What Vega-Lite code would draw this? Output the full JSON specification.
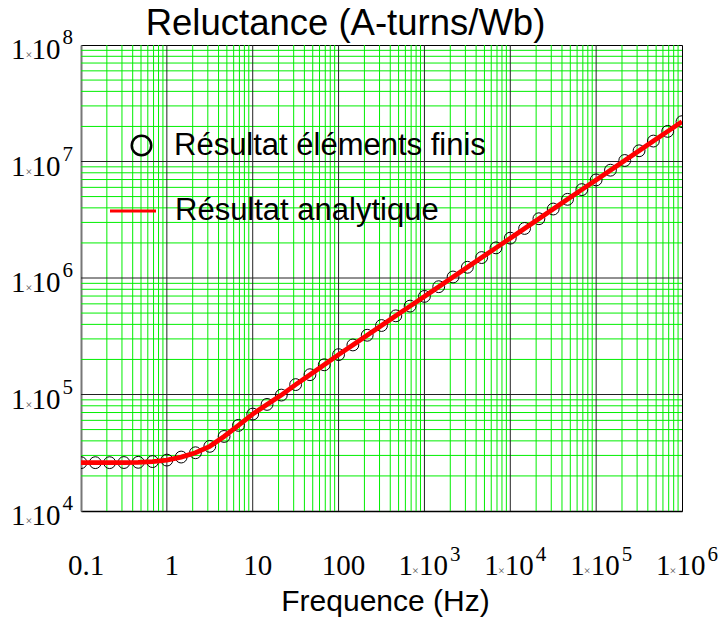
{
  "$schema": "https://vega.github.io/schema/vega-lite/v6.json",
  "width": 601,
  "height": 466,
  "autosize": {"type": "none"},
  "padding": {"left": 81, "top": 45, "right": 41, "bottom": 108},
  "background": "white",
  "config": {"view": {"stroke": "black", "strokeWidth": 1}},
  "title": {
    "text": "Reluctance (A-turns/Wb)",
    "font": "Liberation Sans",
    "fontSize": 36.5,
    "fontWeight": "normal",
    "color": "black",
    "frame": "group",
    "anchor": "middle",
    "dx": -36,
    "baseline": "alphabetic",
    "offset": -44
  },
  "datasets": {
    "reluctance": [
      {"f": 0.1, "r": 26000},
      {"f": 0.14678, "r": 26000},
      {"f": 0.21544, "r": 26000},
      {"f": 0.31623, "r": 26060},
      {"f": 0.46416, "r": 26180},
      {"f": 0.68129, "r": 26550},
      {"f": 1, "r": 27350},
      {"f": 1.4678, "r": 29040},
      {"f": 2.1544, "r": 31620},
      {"f": 3.1623, "r": 35890},
      {"f": 4.6416, "r": 43650},
      {"f": 6.8129, "r": 54330},
      {"f": 10, "r": 67920},
      {"f": 14.678, "r": 82220},
      {"f": 21.544, "r": 98860},
      {"f": 31.623, "r": 121600},
      {"f": 46.416, "r": 147900},
      {"f": 68.129, "r": 179900},
      {"f": 100, "r": 219800},
      {"f": 146.78, "r": 266300},
      {"f": 215.44, "r": 322600},
      {"f": 316.23, "r": 390900},
      {"f": 464.16, "r": 473500},
      {"f": 681.29, "r": 573700},
      {"f": 1000, "r": 695100},
      {"f": 1467.8, "r": 842100},
      {"f": 2154.4, "r": 1020200},
      {"f": 3162.3, "r": 1236000},
      {"f": 4641.6, "r": 1497500},
      {"f": 6812.9, "r": 1814200},
      {"f": 10000, "r": 2198000},
      {"f": 14678, "r": 2662900},
      {"f": 21544, "r": 3226200},
      {"f": 31623, "r": 3908700},
      {"f": 46416, "r": 4735400},
      {"f": 68129, "r": 5737200},
      {"f": 100000, "r": 6950700},
      {"f": 146780, "r": 8421000},
      {"f": 215440, "r": 10202000},
      {"f": 316230, "r": 12360000},
      {"f": 464160, "r": 14975000},
      {"f": 681290, "r": 18142000},
      {"f": 1000000, "r": 21980000}
    ],
    "xminor": [
      {"v": 0.2}, {"v": 0.3}, {"v": 0.4}, {"v": 0.5}, {"v": 0.6}, {"v": 0.7}, {"v": 0.8}, {"v": 0.9},
      {"v": 2}, {"v": 3}, {"v": 4}, {"v": 5}, {"v": 6}, {"v": 7}, {"v": 8}, {"v": 9},
      {"v": 20}, {"v": 30}, {"v": 40}, {"v": 50}, {"v": 60}, {"v": 70}, {"v": 80}, {"v": 90},
      {"v": 200}, {"v": 300}, {"v": 400}, {"v": 500}, {"v": 600}, {"v": 700}, {"v": 800}, {"v": 900},
      {"v": 2000}, {"v": 3000}, {"v": 4000}, {"v": 5000}, {"v": 6000}, {"v": 7000}, {"v": 8000}, {"v": 9000},
      {"v": 20000}, {"v": 30000}, {"v": 40000}, {"v": 50000}, {"v": 60000}, {"v": 70000}, {"v": 80000}, {"v": 90000},
      {"v": 200000}, {"v": 300000}, {"v": 400000}, {"v": 500000}, {"v": 600000}, {"v": 700000}, {"v": 800000}, {"v": 900000}
    ],
    "xmajor": [
      {"v": 1}, {"v": 10}, {"v": 100}, {"v": 1000}, {"v": 10000}, {"v": 100000}
    ],
    "yminor": [
      {"v": 20000}, {"v": 30000}, {"v": 40000}, {"v": 50000}, {"v": 60000}, {"v": 70000}, {"v": 80000}, {"v": 90000},
      {"v": 200000}, {"v": 300000}, {"v": 400000}, {"v": 500000}, {"v": 600000}, {"v": 700000}, {"v": 800000}, {"v": 900000},
      {"v": 2000000}, {"v": 3000000}, {"v": 4000000}, {"v": 5000000}, {"v": 6000000}, {"v": 7000000}, {"v": 8000000}, {"v": 9000000},
      {"v": 20000000}, {"v": 30000000}, {"v": 40000000}, {"v": 50000000}, {"v": 60000000}, {"v": 70000000}, {"v": 80000000}, {"v": 90000000}
    ],
    "ymajor": [
      {"v": 100000}, {"v": 1000000}, {"v": 10000000}
    ],
    "xplain": [
      {"f": 0.1, "t": "0.1"},
      {"f": 1, "t": "1"},
      {"f": 10, "t": "10"},
      {"f": 100, "t": "100"}
    ],
    "xpow": [
      {"f": 1000, "e": "3"},
      {"f": 10000, "e": "4"},
      {"f": 100000, "e": "5"},
      {"f": 1000000, "e": "6"}
    ],
    "ypow": [
      {"r": 10000, "e": "4"},
      {"r": 100000, "e": "5"},
      {"r": 1000000, "e": "6"},
      {"r": 10000000, "e": "7"},
      {"r": 100000000, "e": "8"}
    ]
  },
  "layer": [
    {
      "data": {"name": "xminor"},
      "mark": {"type": "rule", "color": "#00ee00", "strokeWidth": 1},
      "encoding": {
        "x": {
          "field": "v",
          "type": "quantitative",
          "scale": {"type": "log", "domain": [0.1, 1000000], "nice": false},
          "axis": {
            "grid": false,
            "labels": false,
            "ticks": false,
            "domain": true,
            "domainColor": "black",
            "domainWidth": 1.5,
            "title": "Frequence (Hz)",
            "titleFont": "Liberation Sans",
            "titleFontSize": 30,
            "titleFontWeight": "normal",
            "titleColor": "black",
            "titleBaseline": "alphabetic",
            "titleY": 99,
            "titleX": 304
          }
        }
      }
    },
    {
      "data": {"name": "yminor"},
      "mark": {"type": "rule", "color": "#00ee00", "strokeWidth": 1},
      "encoding": {
        "y": {
          "field": "v",
          "type": "quantitative",
          "scale": {"type": "log", "domain": [10000, 100000000], "nice": false},
          "axis": {
            "grid": false,
            "labels": false,
            "ticks": false,
            "domain": true,
            "domainColor": "#777777",
            "domainWidth": 2,
            "title": null
          }
        }
      }
    },
    {
      "data": {"name": "xmajor"},
      "mark": {"type": "rule", "color": "#222222", "strokeWidth": 1},
      "encoding": {"x": {"field": "v", "type": "quantitative"}}
    },
    {
      "data": {"name": "ymajor"},
      "mark": {"type": "rule", "color": "#222222", "strokeWidth": 1},
      "encoding": {"y": {"field": "v", "type": "quantitative"}}
    },
    {
      "data": {"name": "reluctance"},
      "mark": {"type": "point", "shape": "circle", "filled": false, "color": "black", "strokeWidth": 1, "size": 140, "opacity": 1, "clip": true},
      "encoding": {
        "x": {"field": "f", "type": "quantitative"},
        "y": {"field": "r", "type": "quantitative"},
        "shape": {
          "datum": "Résultat éléments finis",
          "scale": {"range": ["circle"]},
          "legend": {
            "orient": "none",
            "legendX": 45,
            "legendY": 85,
            "title": null,
            "padding": 0,
            "labelFont": "Liberation Sans",
            "labelFontSize": 31,
            "labelColor": "black",
            "labelLimit": 600,
            "labelOffset": 17,
            "symbolSize": 380,
            "symbolStrokeWidth": 2.5,
            "symbolStrokeColor": "black",
            "symbolFillColor": "transparent"
          }
        }
      }
    },
    {
      "data": {"name": "reluctance"},
      "mark": {"type": "line", "strokeWidth": 4.8, "clip": true},
      "encoding": {
        "x": {"field": "f", "type": "quantitative"},
        "y": {"field": "r", "type": "quantitative"},
        "color": {
          "datum": "Résultat analytique",
          "scale": {"range": ["#ff0000"]},
          "legend": {
            "orient": "none",
            "legendX": 27.5,
            "legendY": 141.5,
            "title": null,
            "padding": 0,
            "labelFont": "Liberation Sans",
            "labelFontSize": 31,
            "labelColor": "black",
            "labelLimit": 600,
            "labelOffset": 17.5,
            "symbolType": "stroke",
            "symbolSize": 2116,
            "symbolStrokeWidth": 3
          }
        }
      }
    },
    {
      "data": {"name": "xplain"},
      "mark": {"type": "text", "font": "Liberation Serif", "fontSize": 29, "color": "black", "align": "center", "baseline": "alphabetic", "dx": 5, "dy": 64},
      "encoding": {
        "x": {"field": "f", "type": "quantitative"},
        "y": {"datum": 10000, "type": "quantitative"},
        "text": {"field": "t"}
      }
    },
    {
      "data": {"name": "xpow"},
      "mark": {"type": "text", "text": "1", "font": "Liberation Serif", "fontSize": 29, "color": "black", "align": "left", "baseline": "alphabetic", "dx": -26, "dy": 64},
      "encoding": {
        "x": {"field": "f", "type": "quantitative"},
        "y": {"datum": 10000, "type": "quantitative"}
      }
    },
    {
      "data": {"name": "xpow"},
      "mark": {"type": "text", "text": "×", "font": "Liberation Serif", "fontSize": 12, "color": "#555555", "align": "center", "baseline": "alphabetic", "dx": -9, "dy": 64},
      "encoding": {
        "x": {"field": "f", "type": "quantitative"},
        "y": {"datum": 10000, "type": "quantitative"}
      }
    },
    {
      "data": {"name": "xpow"},
      "mark": {"type": "text", "text": "10", "font": "Liberation Serif", "fontSize": 29, "color": "black", "align": "left", "baseline": "alphabetic", "dx": -5.5, "dy": 64},
      "encoding": {
        "x": {"field": "f", "type": "quantitative"},
        "y": {"datum": 10000, "type": "quantitative"}
      }
    },
    {
      "data": {"name": "xpow"},
      "mark": {"type": "text", "font": "Liberation Serif", "fontSize": 21, "color": "black", "align": "left", "baseline": "alphabetic", "dx": 25.5, "dy": 50},
      "encoding": {
        "x": {"field": "f", "type": "quantitative"},
        "y": {"datum": 10000, "type": "quantitative"},
        "text": {"field": "e"}
      }
    },
    {
      "data": {"name": "ypow"},
      "mark": {"type": "text", "text": "1", "font": "Liberation Serif", "fontSize": 29, "color": "black", "align": "left", "baseline": "alphabetic", "dx": -70, "dy": 14},
      "encoding": {
        "x": {"datum": 0.1, "type": "quantitative"},
        "y": {"field": "r", "type": "quantitative"}
      }
    },
    {
      "data": {"name": "ypow"},
      "mark": {"type": "text", "text": "×", "font": "Liberation Serif", "fontSize": 12, "color": "#555555", "align": "center", "baseline": "alphabetic", "dx": -52, "dy": 14},
      "encoding": {
        "x": {"datum": 0.1, "type": "quantitative"},
        "y": {"field": "r", "type": "quantitative"}
      }
    },
    {
      "data": {"name": "ypow"},
      "mark": {"type": "text", "text": "10", "font": "Liberation Serif", "fontSize": 29, "color": "black", "align": "left", "baseline": "alphabetic", "dx": -49.5, "dy": 14},
      "encoding": {
        "x": {"datum": 0.1, "type": "quantitative"},
        "y": {"field": "r", "type": "quantitative"}
      }
    },
    {
      "data": {"name": "ypow"},
      "mark": {"type": "text", "font": "Liberation Serif", "fontSize": 21, "color": "black", "align": "left", "baseline": "alphabetic", "dx": -18.5, "dy": -1},
      "encoding": {
        "x": {"datum": 0.1, "type": "quantitative"},
        "y": {"field": "r", "type": "quantitative"},
        "text": {"field": "e"}
      }
    }
  ]
}
